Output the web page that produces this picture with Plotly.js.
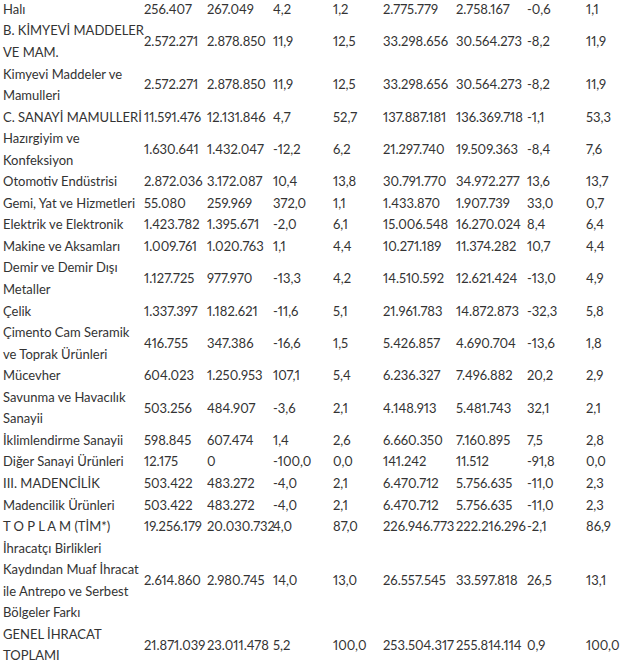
<!DOCTYPE html>
<html>
<head>
<meta charset="utf-8">
<script src="https://cdn.plot.ly/plotly-3.0.1.min.js"></script>
<style>
html,body{margin:0;padding:0;background:#fff;}
#chart{width:629px;height:660px;}
#chart svg text{font-variant-numeric:proportional-nums;font-feature-settings:"pnum" 1;}
</style>
</head>
<body>
<div id="chart"></div>
<script>
const names = ["Halı", "B. KİMYEVİ MADDELER\nVE MAM.", "Kimyevi Maddeler ve\nMamulleri", "C. SANAYİ MAMULLERİ", "Hazırgiyim ve\nKonfeksiyon", "Otomotiv Endüstrisi", "Gemi, Yat ve Hizmetleri", "Elektrik ve Elektronik", "Makine ve Aksamları", "Demir ve Demir Dışı\nMetaller", "Çelik", "Çimento Cam Seramik\nve Toprak Ürünleri", "Mücevher", "Savunma ve Havacılık\nSanayii", "İklimlendirme Sanayii", "Diğer Sanayi Ürünleri", "III. MADENCİLİK", "Madencilik Ürünleri", "T O P L A M (TİM*)", "İhracatçı Birlikleri\nKaydından Muaf İhracat\nile Antrepo ve Serbest\nBölgeler Farkı", "GENEL İHRACAT\nTOPLAMI"];
const monthPrev = [256407, 2572271, 2572271, 11591476, 1630641, 2872036, 55080, 1423782, 1009761, 1127725, 1337397, 416755, 604023, 503256, 598845, 12175, 503422, 503422, 19256179, 2614860, 21871039];
const monthCur = [267049, 2878850, 2878850, 12131846, 1432047, 3172087, 259969, 1395671, 1020763, 977970, 1182621, 347386, 1250953, 484907, 607474, 0, 483272, 483272, 20030732, 2980745, 23011478];
const monthChg = [4.2, 11.9, 11.9, 4.7, -12.2, 10.4, 372.0, -2.0, 1.1, -13.3, -11.6, -16.6, 107.1, -3.6, 1.4, -100.0, -4.0, -4.0, 4.0, 14.0, 5.2];
const monthShare = [1.2, 12.5, 12.5, 52.7, 6.2, 13.8, 1.1, 6.1, 4.4, 4.2, 5.1, 1.5, 5.4, 2.1, 2.6, 0.0, 2.1, 2.1, 87.0, 13.0, 100.0];
const cumPrev = [2775779, 33298656, 33298656, 137887181, 21297740, 30791770, 1433870, 15006548, 10271189, 14510592, 21961783, 5426857, 6236327, 4148913, 6660350, 141242, 6470712, 6470712, 226946773, 26557545, 253504317];
const cumCur = [2758167, 30564273, 30564273, 136369718, 19509363, 34972277, 1907739, 16270024, 11374282, 12621424, 14872873, 4690704, 7496882, 5481743, 7160895, 11512, 5756635, 5756635, 222216296, 33597818, 255814114];
const cumChg = [-0.6, -8.2, -8.2, -1.1, -8.4, 13.6, 33.0, 8.4, 10.7, -13.0, -32.3, -13.6, 20.2, 32.1, 7.5, -91.8, -11.0, -11.0, -2.1, 26.5, 0.9];
const cumShare = [1.1, 11.9, 11.9, 53.3, 7.6, 13.7, 0.7, 6.4, 4.4, 4.9, 5.8, 1.8, 2.9, 2.1, 2.8, 0.0, 2.3, 2.3, 86.9, 13.1, 100.0];

// layout constants (pixels)
const W = 629, H = 660, LINE = 21.55, TOP = 10.6;
const colX = [3, 144, 207, 273, 333, 383, 456, 527, 586];
const FONT = {family: "Lato, 'Open Sans', sans-serif", size: 13, color: "#333333"};

const fmtInt = n => String(n).replace(/\B(?=(\d{3})+(?!\d))/g, ".");
const fmtDec = n => n.toFixed(1).replace(".", ",");

// compute line positions
const lineX = [], lineY = [], lineT = [], rowCenter = [];
let k = 0;
names.forEach(nm => {
  const parts = nm.split("\n");
  rowCenter.push(k + (parts.length - 1) / 2);
  parts.forEach(p => { lineX.push(colX[0]); lineY.push(k); lineT.push(p); k++; });
});

const traces = [{
  type: "scatter", mode: "text", x: lineX, y: lineY, text: lineT,
  textposition: "middle right", textfont: FONT, hoverinfo: "skip", showlegend: false, cliponaxis: false
}];
const cols = [
  monthPrev.map(fmtInt), monthCur.map(fmtInt), monthChg.map(fmtDec), monthShare.map(fmtDec),
  cumPrev.map(fmtInt), cumCur.map(fmtInt), cumChg.map(fmtDec), cumShare.map(fmtDec)
];
cols.forEach((vals, i) => {
  traces.push({
    type: "scatter", mode: "text", x: vals.map(() => colX[i + 1]), y: rowCenter, text: vals,
    textposition: "middle right", textfont: FONT, hoverinfo: "skip", showlegend: false, cliponaxis: false
  });
});

const layout = {
  width: W, height: H, margin: {l: 0, r: 0, t: 0, b: 0},
  paper_bgcolor: "#ffffff", plot_bgcolor: "#ffffff",
  xaxis: {range: [0, W], visible: false, fixedrange: true},
  yaxis: {range: [(H - TOP) / LINE, -TOP / LINE], visible: false, fixedrange: true},
  hovermode: false, showlegend: false
};
Plotly.newPlot("chart", traces, layout, {displayModeBar: false, staticPlot: true});
</script>
</body>
</html>
